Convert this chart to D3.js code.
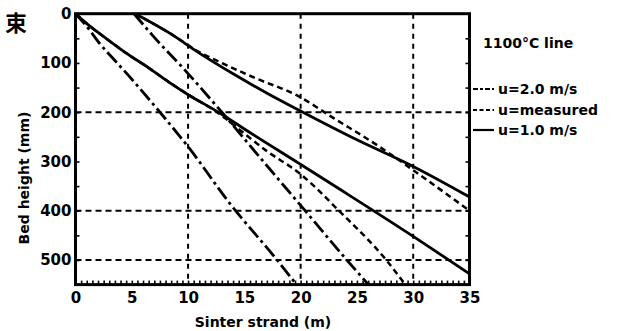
<!DOCTYPE html>
<html>
<head>
<meta charset="utf-8">
<script src="https://cdn.jsdelivr.net/npm/d3@7"></script>
<style>
  body { margin: 0; background: #fff; }
  svg text { font-family: "DejaVu Sans", sans-serif; font-weight: bold; fill: #000; }
</style>
</head>
<body>
<svg id="chart" width="618" height="331"></svg>
<script>
// tick values
const xTicks = [0, 5, 10, 15, 20, 25, 30, 35];
const yTicks = [0, 100, 200, 300, 400, 500];
const xGrid = [10, 20, 30];
const yGrid = [200, 400, 500];

// 1100C lines, [strand m, bed height mm]
const lowerFast = [[0, 0], [1, 26], [2.2, 62], [3.5, 95], [5, 133], [7.5, 200], [10, 270], [13.7, 385], [17.9, 500], [19.7, 552]];
const lowerMeas = [[0, 0], [1, 20], [2, 38], [3, 55], [4.5, 80], [6.5, 110], [8.5, 142], [10, 164], [12.7, 202], [14.6, 236], [17, 279], [19.9, 324], [23.4, 400], [27.6, 500], [29.3, 550]];
const lowerSlow = [[0, 0], [1, 20], [2, 38], [3, 55], [4.5, 80], [6.5, 110], [8.5, 142], [9.9, 163], [12.7, 200], [15, 234], [20, 306], [23.8, 361], [30, 452], [35, 528]];
const upperFast = [[5.2, 0], [7, 48], [9.7, 114], [13, 200], [16.5, 295], [20.4, 400], [24.1, 500], [26.1, 552]];
const upperMeas = [[5.3, 0], [8.4, 40], [11, 78], [13, 100], [16.1, 132], [19.6, 165], [23, 213], [27, 270], [31, 334], [35, 400]];
const upperSlow = [[5.3, 0], [8.4, 40], [11, 80], [14, 122], [17.3, 165], [20.2, 200], [25, 256], [30, 310], [35, 372]];

const legendNames = ['u=2.0 m/s', 'u=measured', 'u=1.0 m/s'];

const dashFast = '14,4,3,4';
const dashMeas = '6,4';

const svg = d3.select('#chart');
svg.append('rect').attr('width', 618).attr('height', 331).attr('fill', '#fff');

const x = d3.scaleLinear().domain([0, 35]).range([75.5, 469.5]);
const y = d3.scaleLinear().domain([0, 550]).range([13.7, 284.6]);

svg.append('defs').append('clipPath').attr('id', 'plot')
    .append('rect')
    .attr('x', x(0)).attr('y', y(0))
    .attr('width', x(35) - x(0)).attr('height', y(550) - y(0));

// grid
const grid = svg.append('g').attr('stroke', '#000').attr('stroke-width', 2);
grid.selectAll('line.h').data(yGrid).enter().append('line')
    .attr('x1', x(0)).attr('x2', x(35))
    .attr('y1', d => y(d)).attr('y2', d => y(d))
    .attr('stroke-dasharray', '6,4');
grid.selectAll('line.v').data(xGrid).enter().append('line')
    .attr('x1', d => x(d)).attr('x2', d => x(d))
    .attr('y1', y(0)).attr('y2', y(550))
    .attr('stroke-dasharray', '5,5');

// axes
const left = svg.append('g').attr('transform', `translate(${x(0)},0)`)
    .call(d3.axisLeft(y).tickValues(d3.range(0, 551, 50)).tickSize(-4).tickPadding(4)
        .tickFormat(d => (yTicks.includes(d) ? d : '')));
const right = svg.append('g').attr('transform', `translate(${x(35)},0)`)
    .call(d3.axisRight(y).tickValues(d3.range(50, 550, 50)).tickSize(-4).tickFormat(''));
const bottom = svg.append('g').attr('transform', `translate(0,${y(550)})`)
    .call(d3.axisBottom(x).tickValues(d3.range(0, 35.01, 0.5)).tickSize(-4).tickPadding(8)
        .tickFormat(d => (xTicks.includes(d) ? d : '')));

[left, right, bottom].forEach(g => {
    g.select('.domain').remove();
    g.selectAll('line').attr('stroke', '#000').attr('stroke-width', 1.6);
    g.selectAll('text').attr('font-size', 15).attr('fill', '#000')
        .style('font-family', '"DejaVu Sans", sans-serif').style('font-weight', 'bold');
});

// curves
const line = d3.line()
    .x(d => x(d[0]))
    .y(d => y(d[1]))
    .curve(d3.curveMonotoneX);

const series = [
    { data: lowerSlow, dash: null, w: 2.8 },
    { data: upperSlow, dash: null, w: 2.8 },
    { data: lowerMeas, dash: dashMeas, w: 2.5 },
    { data: upperMeas, dash: dashMeas, w: 2.5 },
    { data: lowerFast, dash: dashFast, w: 2.8 },
    { data: upperFast, dash: dashFast, w: 2.8 }
];

svg.append('g').attr('clip-path', 'url(#plot)')
    .selectAll('path').data(series).enter().append('path')
    .attr('d', s => line(s.data))
    .attr('fill', 'none')
    .attr('stroke', '#000')
    .attr('stroke-width', s => s.w)
    .attr('stroke-dasharray', s => s.dash);

// frame
svg.append('rect')
    .attr('x', x(0)).attr('y', y(0))
    .attr('width', x(35) - x(0)).attr('height', y(550) - y(0))
    .attr('fill', 'none').attr('stroke', '#000').attr('stroke-width', 3);

// axis titles
svg.append('text')
    .attr('x', 263).attr('y', 327)
    .attr('text-anchor', 'middle').attr('font-size', 14)
    .text('Sinter strand (m)');
svg.append('text')
    .attr('transform', 'translate(29,178) rotate(-90)')
    .attr('text-anchor', 'middle').attr('font-size', 14)
    .text('Bed height (mm)');

svg.append('text')
    .attr('x', 5).attr('y', 31)
    .attr('font-size', 22)
    .style('font-family', '"Noto Sans CJK SC", sans-serif')
    .text('束');

// legend
svg.append('text')
    .attr('x', 483).attr('y', 48).attr('font-size', 14)
    .text('1100°C line');

const legendDash = [dashFast, dashMeas, null];
const legendY = [94, 115, 135];
const leg = svg.append('g');
legendNames.forEach((name, i) => {
    leg.append('line')
        .attr('x1', 473).attr('x2', 494)
        .attr('y1', legendY[i] - 5).attr('y2', legendY[i] - 5)
        .attr('stroke', '#000').attr('stroke-width', 2.2)
        .attr('stroke-dasharray', i === 0 ? '5,2,3,2' : (legendDash[i] ? '4,2.5' : null));
    leg.append('text')
        .attr('x', 498).attr('y', legendY[i]).attr('font-size', 14)
        .text(name);
});
</script>
</body>
</html>
